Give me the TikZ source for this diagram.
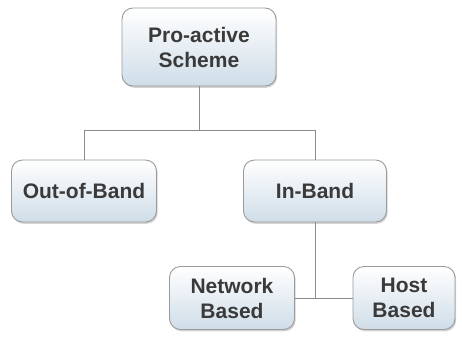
\documentclass[tikz,border=0pt]{standalone}
\usepackage{fontspec}
\setmainfont{Liberation Sans}
\usetikzlibrary{positioning, shadows, calc}
\definecolor{BoxEdge}{HTML}{9A9A9A}
\definecolor{BoxTop}{HTML}{FFFFFF}
\definecolor{BoxBottom}{HTML}{CFDDE8}
\definecolor{BoxText}{HTML}{3A3A3A}
\definecolor{LinkGray}{HTML}{8A8A8A}
\tikzset{
    % rounded boxes with light shading
    scheme/.style={
        rectangle,
        rounded corners=11pt,
        draw=BoxEdge,
        line width=0.9pt,
        top color=BoxTop,
        bottom color=BoxBottom,
        drop shadow={opacity=0.35, shadow xshift=1.2pt, shadow yshift=-1.8pt},
        align=center,
        text=BoxText,
        font=\fontsize{21}{25}\selectfont\bfseries
    },
    % plain tree lines
    link/.style={
        draw=LinkGray,
        line width=1pt
    }
}
\begin{document}
\begin{tikzpicture}[x=1pt, y=-1pt]
    \useasboundingbox (0,0) rectangle (462,338);

    \node[scheme, minimum width=154pt, minimum height=78pt] (pro) at (199,47) {Pro-active\\Scheme};

    \node[scheme, minimum width=145pt, minimum height=62pt] (oob) at (84,191) {Out-of-Band};
    \node[scheme, minimum width=143pt, minimum height=62pt] (inb) at (315,191) {In-Band};

    \node[scheme, minimum width=125pt, minimum height=63pt] (net) at (232,298) {Network\\Based};
    \node[scheme, minimum width=102pt, minimum height=63pt] (host) at (404,298) {Host\\Based};

    \coordinate (split) at (199,130);

    \draw[link] (pro.south) -- (split);
    \draw[link] (split) -| (oob.north);
    \draw[link] (split) -| (inb.north);
    \draw[link] (inb.south) -- (inb.south |- net.east);
    \draw[link] (net.east) -- (host.west);
\end{tikzpicture}
\end{document}
